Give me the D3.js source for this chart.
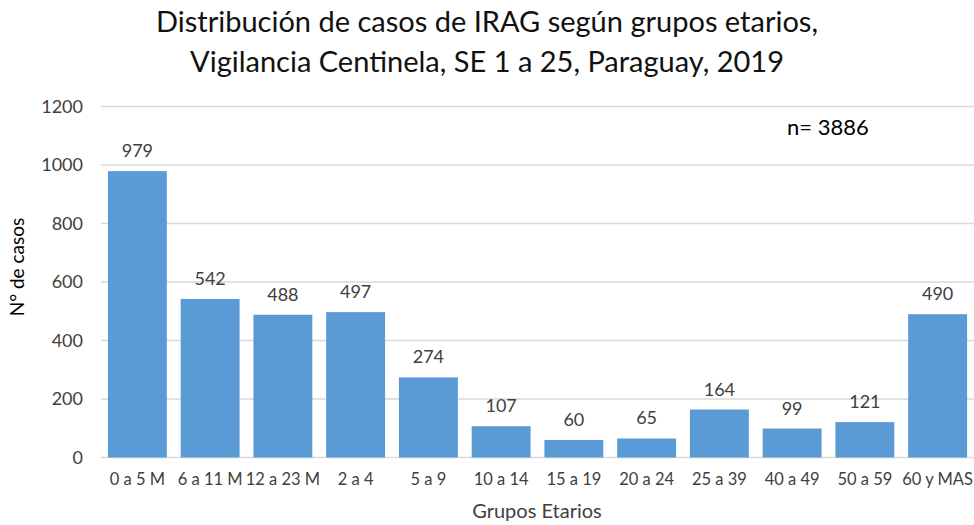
<!DOCTYPE html>
<html><head><meta charset="utf-8">
<script src="https://cdn.jsdelivr.net/npm/d3@7"></script>
<style>body{margin:0;background:#fff}svg{display:block}text{font-family:Lato,"Open Sans",sans-serif}</style>
</head><body><svg id="c" width="974" height="525"></svg>
<script>
const categories = ["0 a 5 M","6 a 11 M","12 a 23 M","2 a 4","5 a 9","10 a 14","15 a 19","20 a 24","25 a 39","40 a 49","50 a 59","60 y MAS"];
const values = [979,542,488,497,274,107,60,65,164,99,121,490];
const yTicks = [0,200,400,600,800,1000,1200];
const titleLines = ["Distribución de casos de IRAG según grupos etarios,","Vigilancia Centinela, SE 1 a 25, Paraguay, 2019"];
const svg = d3.select("#c");
const x = d3.scaleBand().domain(categories).range([101,974]).paddingInner(0.19).paddingOuter(0.095);
const y = d3.scaleLinear().domain([0,1200]).range([457.5,106.5]);
// grid
svg.append("g").selectAll("line").data(yTicks).join("line")
  .attr("x1",101).attr("x2",974).attr("y1",d=>y(d)).attr("y2",d=>y(d))
  .attr("stroke","#d9d9d9").attr("stroke-width",1.3);
// y axis labels
const ya = svg.append("g").attr("transform","translate(83,0)").call(d3.axisLeft(y).tickValues(yTicks).tickFormat(d3.format("d")).tickSize(0).tickPadding(0));
ya.select(".domain").remove();
ya.selectAll("text").attr("font-family","Lato").attr("font-size",18).attr("fill","#404040");
// bars
svg.append("g").selectAll("rect").data(values).join("rect")
  .attr("x",(d,i)=>x(categories[i])).attr("width",x.bandwidth())
  .attr("y",d=>y(d)).attr("height",d=>y(0)-y(d)).attr("fill","#5B9BD5");
// labels
svg.append("g").selectAll("text").data(values).join("text")
  .attr("x",(d,i)=>x(categories[i])+x.bandwidth()/2).attr("y",d=>y(d)-14)
  .attr("text-anchor","middle").attr("font-size",18).attr("fill","#404040").text(d=>d);
// x axis
const xa = svg.append("g").attr("transform",`translate(0,${y(0)})`).call(d3.axisBottom(x).tickSize(0).tickPadding(16));
xa.select(".domain").remove();
xa.selectAll("text").attr("font-family","Lato").attr("font-size",16.5).attr("fill","#404040");
// titles
svg.append("g").selectAll("text").data(titleLines).join("text")
  .attr("x",487).attr("y",(d,i)=>32+i*40).attr("text-anchor","middle").attr("font-size",29).attr("fill","#111").text(d=>d);
svg.append("text").attr("x",537).attr("y",518).attr("text-anchor","middle").attr("font-size",20).attr("fill","#404040").text("Grupos Etarios");
svg.append("text").attr("transform","translate(24,267) rotate(-90)").attr("text-anchor","middle").attr("font-size",19).attr("fill","#000").text("N° de casos");
svg.append("text").attr("x",787).attr("y",135).attr("font-size",22).attr("fill","#000").text("n= 3886");
</script></body></html>
